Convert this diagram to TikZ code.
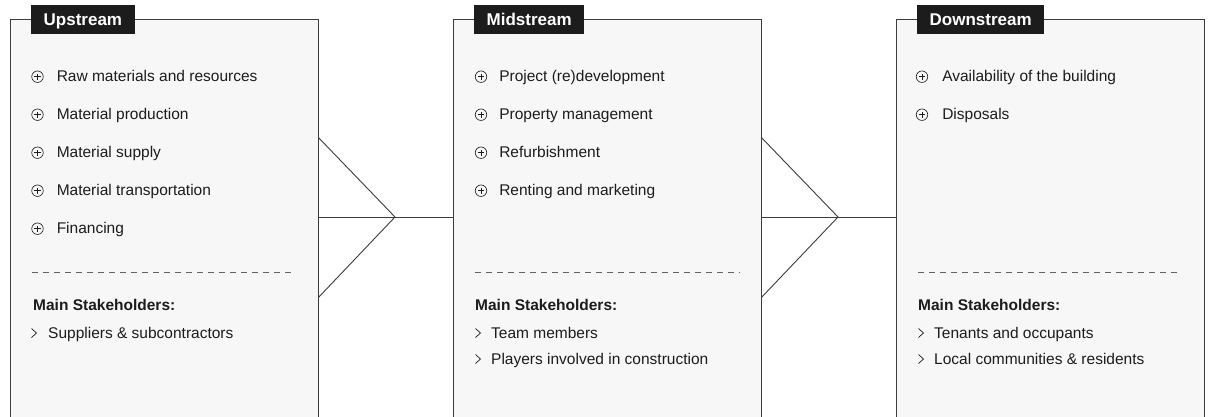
\documentclass[tikz,border=0pt]{standalone}
\usepackage{fontspec}
\setmainfont{Liberation Sans}
\usetikzlibrary{positioning}
\definecolor{boxgray}{HTML}{F7F7F7}
\definecolor{ink}{HTML}{1C1C1C}
\definecolor{edge}{HTML}{3C3C3C}
\tikzset{
  stage/.style={draw=edge, fill=boxgray, line width=0.9pt, minimum width=308pt,
    minimum height=430pt, anchor=north west, inner sep=0},
  tag/.style={fill=ink, text=white, font=\bfseries\fontsize{17}{20}\selectfont,
    inner xsep=12.5pt, inner ysep=0, text height=12.2pt, text depth=0pt,
    minimum height=29pt, anchor=north west},
  item/.style={anchor=base west, text=ink, inner sep=0, font=\fontsize{15.5}{18}\selectfont},
  head/.style={item, font=\bfseries\fontsize{15.5}{18}\selectfont},
  plus/.style={circle, draw=ink, line width=0.65pt, minimum size=11.5pt, inner sep=0,
    path picture={\draw[ink, line width=0.65pt]
      (path picture bounding box.center) ++(-3.2pt,0) -- ++(6.4pt,0)
      (path picture bounding box.center) ++(0,-3.2pt) -- ++(0,6.4pt);}},
  chev/.pic={\draw[ink, line width=0.7pt] (-2.5pt,4.5pt) -- (2.5pt,0) -- (-2.5pt,-4.5pt);},
  sep/.style={draw=edge!80, line width=0.8pt, dash pattern=on 6pt off 5pt},
  link/.style={draw=edge, line width=0.9pt}
}
\begin{document}
\begin{tikzpicture}[x=1pt, y=-1pt]
  \useasboundingbox[fill=white] (0,0) rectangle (1211,416);
  \clip (0,0) rectangle (1211,416);

  % the three stages
  \node[stage] (up) at (10,19) {};
  \node[stage] (mid) at (453,19) {};
  \node[stage] (down) at (896,19) {};
  \node[tag] (uptag) at (31,5) {Upstream};
  \node[tag] (midtag) at (474,5) {Midstream};
  \node[tag] (downtag) at (917,5) {Downstream};

  % joints between the stages
  \coordinate (j1) at (395,217);
  \coordinate (j2) at (838,217);
  \draw[link] ([yshift=-119pt]up.north east) -- (j1) -- ([yshift=-278pt]up.north east);
  \draw[link] (up.east |- j1) -- (mid.west |- j1);
  \draw[link] ([yshift=-119pt]mid.north east) -- (j2) -- ([yshift=-278pt]mid.north east);
  \draw[link] (mid.east |- j2) -- (down.west |- j2);

  % upstream
  \foreach \t [count=\i] in {Raw materials and resources, Material production,
      Material supply, Material transportation, Financing} {
    \node[plus] (upp\i) at (37.5, 38*\i+38.7) {};
    \node[item] (upi\i) at ([xshift=13pt, yshift=-4.8pt]upp\i.east) {\t};
  }
  \draw[sep] (32,272) -- (291,272);
  \node[head] (uphead) at (33,310) {Main Stakeholders:};
  \pic at (34,333) {chev};
  \node[item] (ups1) at (48,338) {Suppliers \& subcontractors};

  % midstream
  \foreach \t [count=\i] in {Project (re)development, Property management,
      Refurbishment, Renting and marketing} {
    \node[plus] (midp\i) at (481, 38*\i+38.7) {};
    \node[item] (midi\i) at ([xshift=12pt, yshift=-4.8pt]midp\i.east) {\t};
  }
  \draw[sep] (475,272) -- (740,272);
  \node[head] (midhead) at (475,310) {Main Stakeholders:};
  \foreach \t [count=\i] in {Team members, Players involved in construction} {
    \pic at (478,26*\i+307) {chev};
    \node[item] (mids\i) at (491,26*\i+312) {\t};
  }

  % downstream
  \foreach \t [count=\i] in {Availability of the building, Disposals} {
    \node[plus] (downp\i) at (922, 38*\i+38.7) {};
    \node[item] (downi\i) at ([xshift=14pt, yshift=-4.8pt]downp\i.east) {\t};
  }
  \draw[sep] (918,272) -- (1177,272);
  \node[head] (downhead) at (918,310) {Main Stakeholders:};
  \foreach \t [count=\i] in {Tenants and occupants, Local communities \& residents} {
    \pic at (921,26*\i+307) {chev};
    \node[item] (downs\i) at (934,26*\i+312) {\t};
  }
\end{tikzpicture}
\end{document}
